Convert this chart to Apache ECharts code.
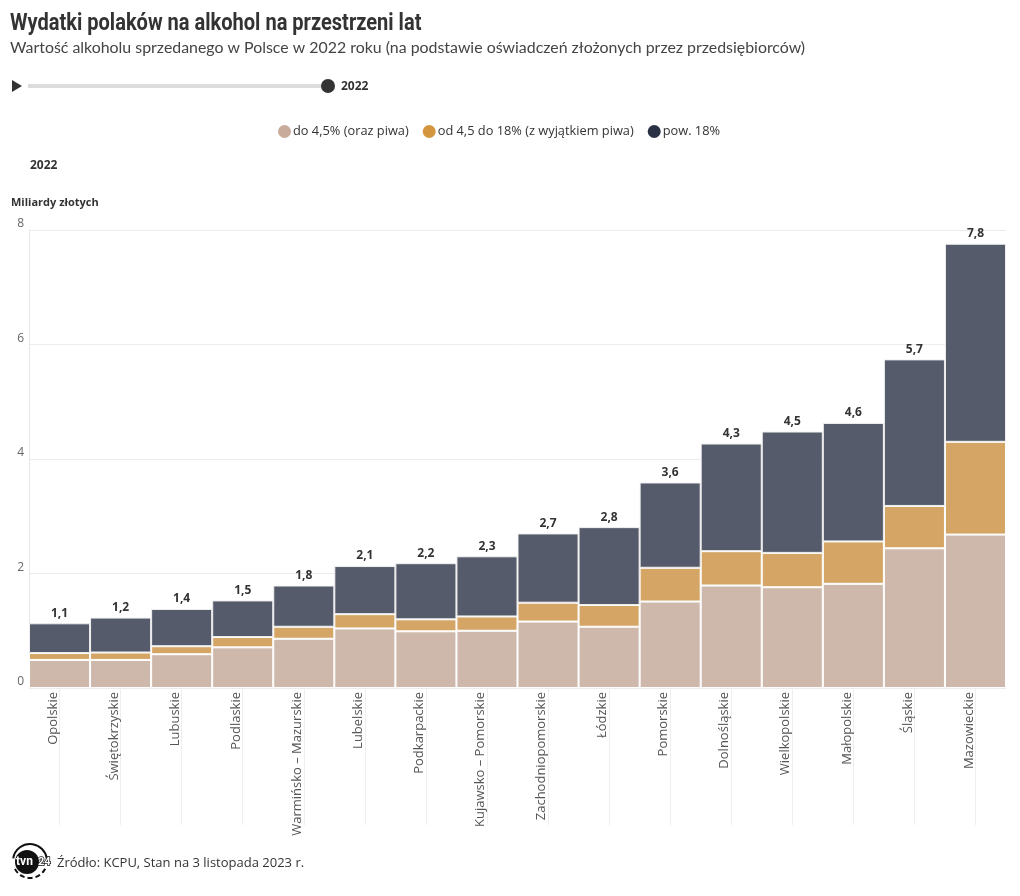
<!DOCTYPE html>
<html>
<head>
<meta charset="utf-8">
<script src="https://cdn.jsdelivr.net/npm/echarts@6/dist/echarts.min.js"></script>
<style>
html,body{margin:0;padding:0;background:#fff;}
#chart{width:1020px;height:896px;}
</style>
</head>
<body>
<div id="chart"></div>
<script>
const categories = ["Opolskie","Świętokrzyskie","Lubuskie","Podlaskie","Warmińsko – Mazurskie","Lubelskie","Podkarpackie","Kujawsko – Pomorskie","Zachodniopomorskie","Łódzkie","Pomorskie","Dolnośląskie","Wielkopolskie","Małopolskie","Śląskie","Mazowieckie"];
const seriesNames = ["do 4,5% (oraz piwa)","od 4,5 do 18% (z wyjątkiem piwa)","pow. 18%"];
const low  = [0.49,0.49,0.59,0.71,0.86,1.04,0.99,1.00,1.16,1.07,1.51,1.79,1.76,1.82,2.44,2.68];
const mid  = [0.12,0.13,0.14,0.18,0.21,0.25,0.21,0.25,0.33,0.38,0.59,0.60,0.60,0.74,0.74,1.62];
const high = [0.52,0.61,0.65,0.64,0.72,0.84,0.98,1.05,1.21,1.36,1.49,1.88,2.12,2.07,2.56,3.46];
const totals = [1.1,1.2,1.4,1.5,1.8,2.1,2.2,2.3,2.7,2.8,3.6,4.3,4.5,4.6,5.7,7.8];
const yTicks = [0,2,4,6,8];
const year = "2022";

const barColors = ["#cdb8ab","#d4a564","#565b6b"];
const legendColors = ["#c8ab9b","#d4963e","#2b3144"];
const fmt = v => v.toFixed(1).replace('.', ',');

const chart = echarts.init(document.getElementById('chart'), null, {renderer:'canvas'});
const mk = (i, data) => ({
  name: seriesNames[i],
  type: 'bar',
  stack: 'total',
  data: data,
  barWidth: '100%',
  barCategoryGap: 0,
  itemStyle: {color: barColors[i], borderColor: '#fff', borderWidth: 1},
  emphasis: {disabled: true}
});
const s3 = mk(2, high);
s3.itemStyle.borderColor = '#f0f0f0';
s3.label = {
  show: true, position: 'top', distance: 4,
  formatter: p => fmt(totals[p.dataIndex]),
  fontFamily: 'Open Sans', fontWeight: 'bold', fontSize: 12, color: '#333'
};

chart.setOption({
  animation: false,
  title: [
    {text: 'Wartość alkoholu sprzedanego w Polsce w 2022 roku (na podstawie oświadczeń złożonych przez przedsiębiorców)', left: 5, top: 35,
     textStyle: {fontFamily: 'Lato', fontWeight: 'normal', fontSize: 15.9, color: '#444'}},
    {text: year, left: 25, top: 155, textStyle: {fontFamily: 'Open Sans', fontWeight: 'bold', fontSize: 12, color: '#333'}},
    {text: 'Miliardy złotych', left: 6, top: 192, textStyle: {fontFamily: 'Open Sans', fontWeight: 'bold', fontSize: 11, color: '#333'}},
    {text: 'Źródło: KCPU, Stan na 3 listopada 2023 r.', left: 52, top: 852, textStyle: {fontFamily: 'Open Sans', fontWeight: 'normal', fontSize: 13, color: '#333'}}
  ],
  legend: {
    top: 120, left: 273,
    icon: 'circle', itemWidth: 13, itemHeight: 13, itemGap: 14,
    textStyle: {fontFamily: 'Open Sans', fontSize: 12.8, color: '#333', padding: [0,0,0,-3]},
    data: seriesNames.map((n, i) => ({name: n, itemStyle: {color: legendColors[i], borderWidth: 0}}))
  },
  grid: {left: 29, right: 14, top: 230, bottom: 208, containLabel: false},
  xAxis: {
    type: 'category', data: categories,
    axisLine: {show: false},
    axisTick: {show: true, alignWithLabel: true, length: 137, lineStyle: {color: '#eeeeee'}},
    axisLabel: {rotate: 90, interval: 0, margin: 4, verticalAlign: 'bottom',
      fontFamily: 'Open Sans', fontSize: 13, color: '#555'}
  },
  yAxis: {
    type: 'value', min: 0, max: 8, interval: 2,
    axisLine: {show: true, lineStyle: {color: '#e6e6e6'}},
    axisTick: {show: false},
    splitLine: {lineStyle: {color: '#ececec'}},
    axisLabel: {margin: 5, verticalAlign: 'bottom', fontFamily: 'Open Sans', fontSize: 12, color: '#666',
      formatter: v => yTicks.includes(v) ? String(v) : ''}
  },
  graphic: [
    {type: 'text', x: 10, y: 12, scaleX: 0.835,
     style: {text: 'Wydatki polaków na alkohol na przestrzeni lat', font: 'bold 24px Roboto', fill: '#333', textVerticalAlign: 'top'}},
    {type: 'polygon', shape: {points: [[12,80],[12,92],[22,86]]}, style: {fill: '#333'}},
    {type: 'line', shape: {x1: 28, y1: 86, x2: 328, y2: 86}, style: {stroke: '#dcdcdc', lineWidth: 4}},
    {type: 'circle', shape: {cx: 328, cy: 86, r: 7}, style: {fill: '#333'}},
    {type: 'text', x: 341, y: 87, style: {text: year, font: 'bold 12px "Open Sans"', fill: '#333', textVerticalAlign: 'middle'}},
    {type: 'arc', shape: {cx: 30, cy: 861, r: 17, startAngle: -Math.PI*0.95, endAngle: -Math.PI*0.05}, style: {stroke: '#111', lineWidth: 2, fill: 'none'}},
    {type: 'arc', shape: {cx: 30, cy: 861, r: 17, startAngle: Math.PI*0.15, endAngle: Math.PI*0.85}, style: {stroke: '#111', lineWidth: 2, fill: 'none', lineDash: [5,3]}},
    {type: 'circle', shape: {cx: 27, cy: 862, r: 12}, style: {fill: '#111'}},
    {type: 'text', x: 16, y: 862, style: {text: 'tvn', font: 'bold 12px Roboto', fill: '#fff', textVerticalAlign: 'middle'}},
    {type: 'text', x: 38, y: 862, style: {text: '24', font: 'bold 11px Roboto', fill: '#fff', stroke: '#111', lineWidth: 1.5, textVerticalAlign: 'middle'}}
  ],
  series: [mk(0, low), mk(1, mid), s3]
});
</script>
</body>
</html>
